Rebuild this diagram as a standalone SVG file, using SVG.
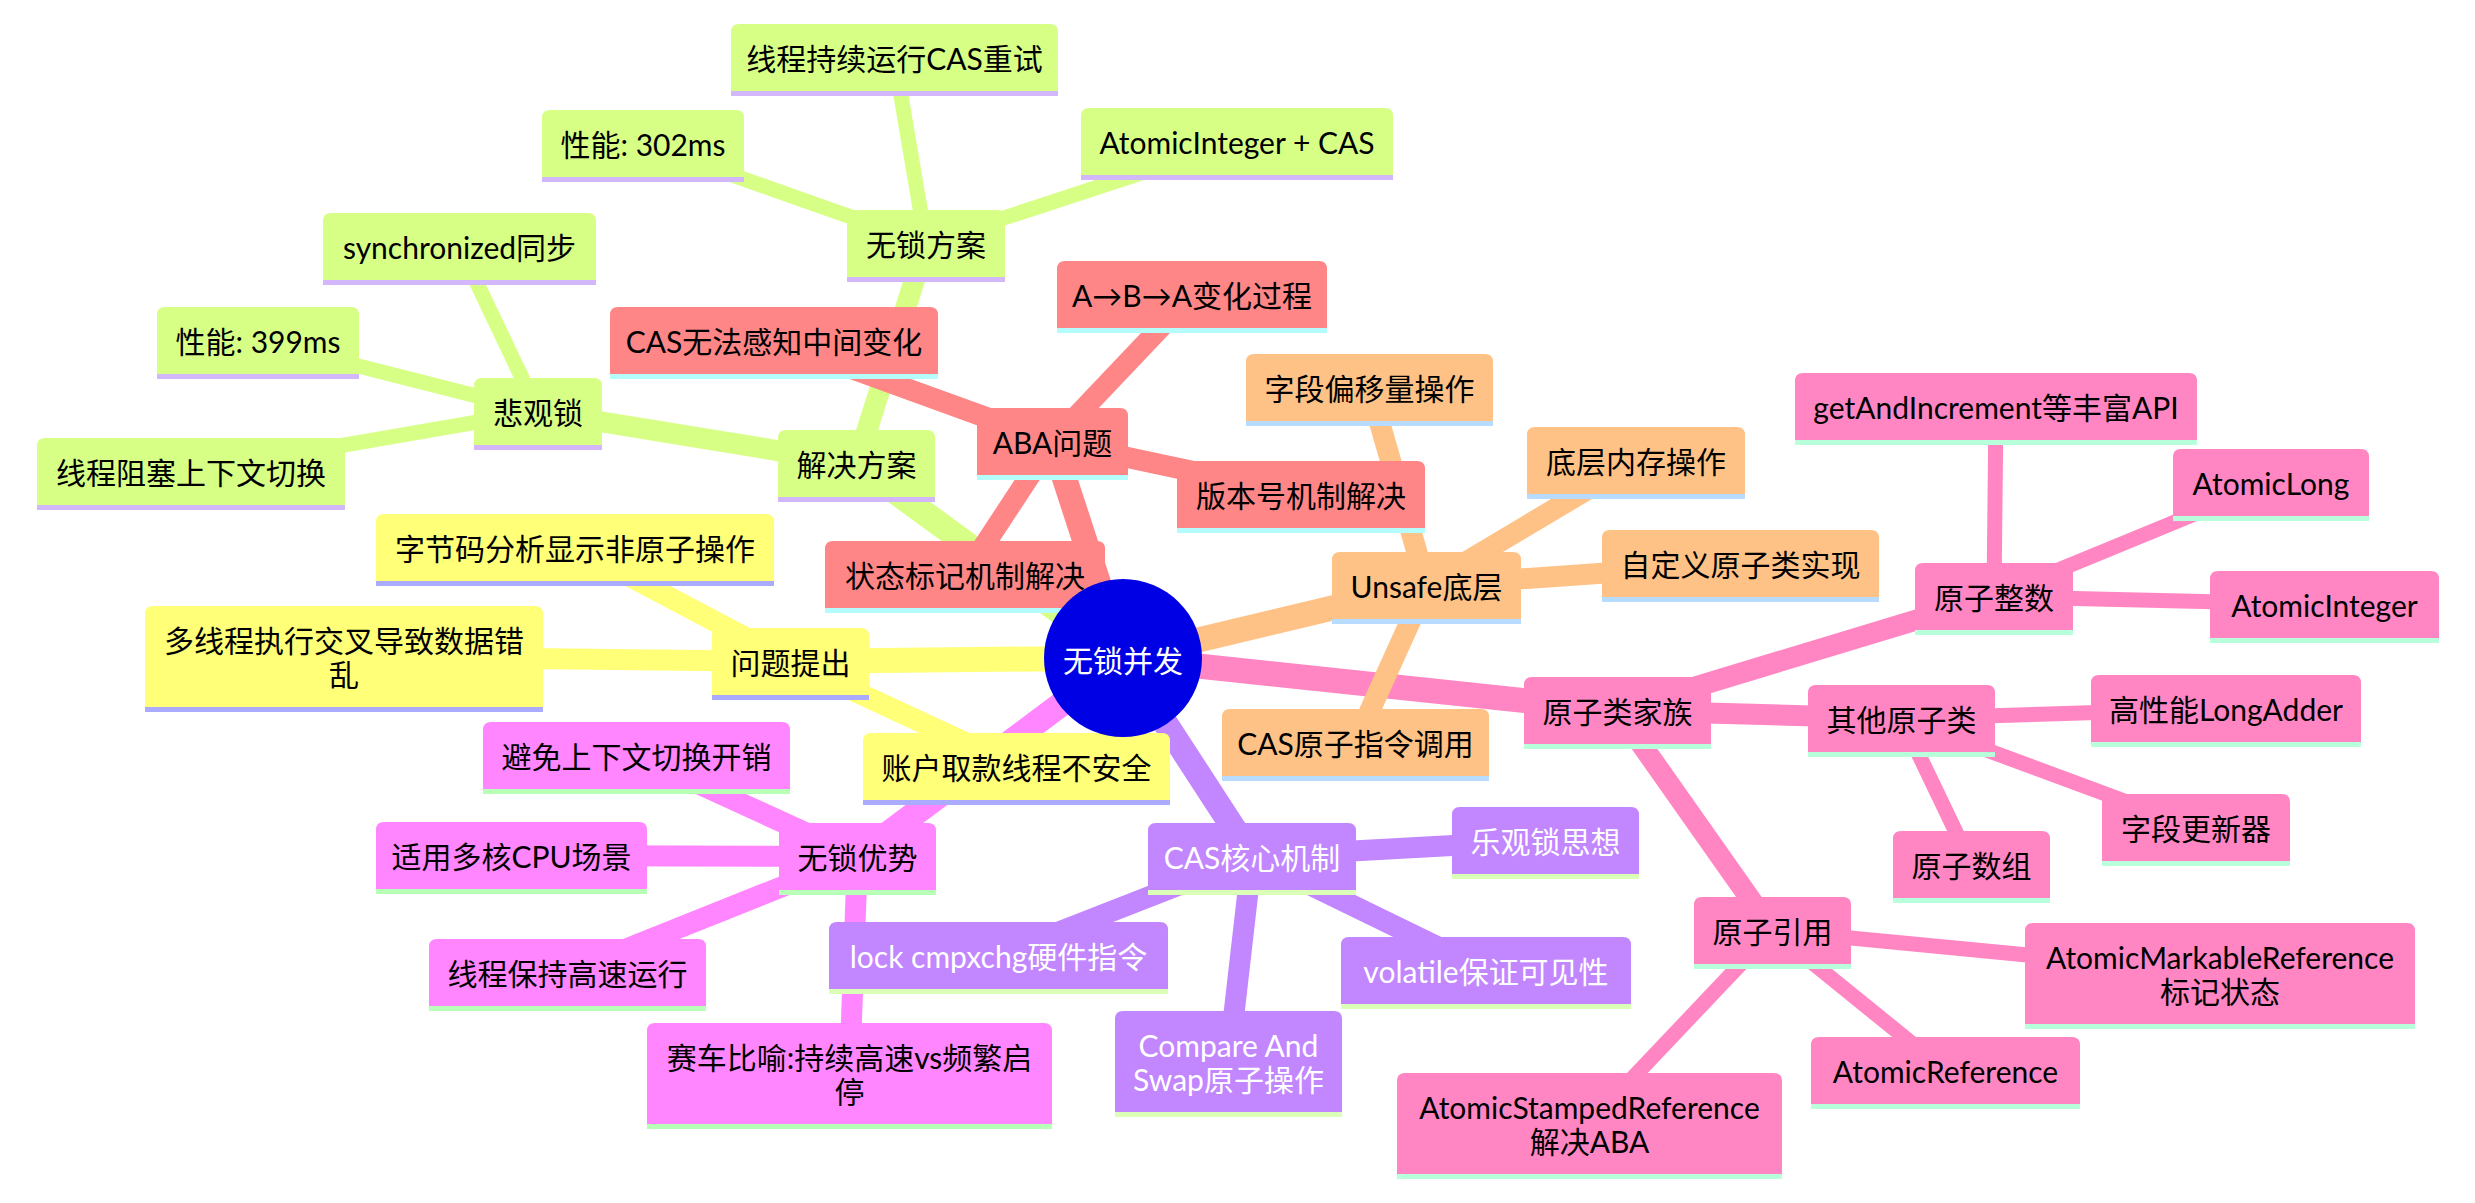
<svg xmlns="http://www.w3.org/2000/svg" width="2475" height="1203" viewBox="0 0 2475 1203">
<style>
text{font-family:"trebuchet ms",Lato,"Noto Sans CJK SC",sans-serif;font-size:30px;text-anchor:middle;dominant-baseline:central;fill:#000}
.edges line{fill:none;stroke-linecap:butt}
.d0{stroke-width:25}.d1{stroke-width:21}.d2{stroke-width:15}
.e-yel{stroke:#ffff78}.e-grn{stroke:#d7ff86}.e-red{stroke:#ff8686}.e-org{stroke:#ffc286}.e-pnk{stroke:#ff86c2}.e-pur{stroke:#c286ff}.e-mag{stroke:#ff86ff}
.yel path{fill:#ffff78}.yel .ln{fill:#aaaaff}
.grn path{fill:#d7ff86}.grn .ln{fill:#d2b8fa}
.red path{fill:#ff8686}.red .ln{fill:#b5fdfd}
.org path{fill:#ffc286}.org .ln{fill:#b8dcff}
.pnk path{fill:#ff86c2}.pnk .ln{fill:#b8ffdc}
.pur path{fill:#c286ff}.pur .ln{fill:#dcffb8}.pur text{fill:#fff}
.mag path{fill:#ff86ff}.mag .ln{fill:#b8ffb8}
</style>
<g id="connectors" class="edges">
<line class="d0 e-yel" x1="1123" y1="658" x2="790.5" y2="661.5"/>
<line class="d0 e-grn" x1="1123" y1="658" x2="856.5" y2="463.5"/>
<line class="d0 e-red" x1="1123" y1="658" x2="1052.5" y2="441.5"/>
<line class="d0 e-org" x1="1123" y1="658" x2="1426.5" y2="585.5"/>
<line class="d0 e-pnk" x1="1123" y1="658" x2="1617.5" y2="710.5"/>
<line class="d0 e-pur" x1="1123" y1="658" x2="1252" y2="856.5"/>
<line class="d0 e-mag" x1="1123" y1="658" x2="857.5" y2="856.5"/>
<line class="d1 e-yel" x1="790.5" y1="661.5" x2="575" y2="547.5"/>
<line class="d1 e-yel" x1="790.5" y1="661.5" x2="344" y2="656.5"/>
<line class="d1 e-yel" x1="790.5" y1="661.5" x2="1016.5" y2="766.5"/>
<line class="d1 e-grn" x1="856.5" y1="463.5" x2="538" y2="411.5"/>
<line class="d1 e-grn" x1="856.5" y1="463.5" x2="926" y2="243.5"/>
<line class="d2 e-grn" x1="538" y1="411.5" x2="459.5" y2="246.5"/>
<line class="d2 e-grn" x1="538" y1="411.5" x2="258" y2="340.5"/>
<line class="d2 e-grn" x1="538" y1="411.5" x2="191" y2="471.5"/>
<line class="d2 e-grn" x1="926" y1="243.5" x2="894.5" y2="57.5"/>
<line class="d2 e-grn" x1="926" y1="243.5" x2="643" y2="143.5"/>
<line class="d2 e-grn" x1="926" y1="243.5" x2="1237" y2="141.5"/>
<line class="d1 e-red" x1="1052.5" y1="441.5" x2="774" y2="340.5"/>
<line class="d1 e-red" x1="1052.5" y1="441.5" x2="1192" y2="294.5"/>
<line class="d1 e-red" x1="1052.5" y1="441.5" x2="1301" y2="494.5"/>
<line class="d1 e-red" x1="1052.5" y1="441.5" x2="965" y2="574.5"/>
<line class="d1 e-org" x1="1426.5" y1="585.5" x2="1369.5" y2="387.5"/>
<line class="d1 e-org" x1="1426.5" y1="585.5" x2="1636" y2="460.5"/>
<line class="d1 e-org" x1="1426.5" y1="585.5" x2="1740.5" y2="563.5"/>
<line class="d1 e-org" x1="1426.5" y1="585.5" x2="1355.5" y2="742.5"/>
<line class="d1 e-pnk" x1="1617.5" y1="710.5" x2="1994" y2="596.5"/>
<line class="d1 e-pnk" x1="1617.5" y1="710.5" x2="1901.5" y2="718.5"/>
<line class="d1 e-pnk" x1="1617.5" y1="710.5" x2="1772.5" y2="930.5"/>
<line class="d2 e-pnk" x1="1994" y1="596.5" x2="1996" y2="406.5"/>
<line class="d2 e-pnk" x1="1994" y1="596.5" x2="2271" y2="482.5"/>
<line class="d2 e-pnk" x1="1994" y1="596.5" x2="2324.5" y2="604.5"/>
<line class="d2 e-pnk" x1="1901.5" y1="718.5" x2="2226" y2="708.5"/>
<line class="d2 e-pnk" x1="1901.5" y1="718.5" x2="2196" y2="827.5"/>
<line class="d2 e-pnk" x1="1901.5" y1="718.5" x2="1971.5" y2="864.5"/>
<line class="d2 e-pnk" x1="1772.5" y1="930.5" x2="2220" y2="973.5"/>
<line class="d2 e-pnk" x1="1772.5" y1="930.5" x2="1945.5" y2="1070.5"/>
<line class="d2 e-pnk" x1="1772.5" y1="930.5" x2="1589.5" y2="1123.5"/>
<line class="d1 e-pur" x1="1252" y1="856.5" x2="1545.5" y2="840.5"/>
<line class="d1 e-pur" x1="1252" y1="856.5" x2="998.5" y2="955.5"/>
<line class="d1 e-pur" x1="1252" y1="856.5" x2="1486" y2="970.5"/>
<line class="d1 e-pur" x1="1252" y1="856.5" x2="1228.5" y2="1061.5"/>
<line class="d1 e-mag" x1="857.5" y1="856.5" x2="636.5" y2="755.5"/>
<line class="d1 e-mag" x1="857.5" y1="856.5" x2="511.5" y2="855.5"/>
<line class="d1 e-mag" x1="857.5" y1="856.5" x2="567.5" y2="972.5"/>
<line class="d1 e-mag" x1="857.5" y1="856.5" x2="849.5" y2="1073.5"/>
</g>
<g id="nodes">
<g id="n-jjfa" class="grn" transform="translate(778,430)"><path d="M0,67V8Q0,0 8,0H149Q157,0 157,8V67Z"/><rect class="ln" y="67" width="157" height="5"/><text x="78.5" y="33.5">解决方案</text></g>
<g id="n-bgs" class="grn" transform="translate(474,378)"><path d="M0,67V8Q0,0 8,0H120Q128,0 128,8V67Z"/><rect class="ln" y="67" width="128" height="5"/><text x="64" y="33.5">悲观锁</text></g>
<g id="n-wsfa" class="grn" transform="translate(847,210)"><path d="M0,67V8Q0,0 8,0H150Q158,0 158,8V67Z"/><rect class="ln" y="67" width="158" height="5"/><text x="79" y="33.5">无锁方案</text></g>
<g id="n-sync" class="grn" transform="translate(323,213)"><path d="M0,67V8Q0,0 8,0H265Q273,0 273,8V67Z"/><rect class="ln" y="67" width="273" height="5"/><text x="136.5" y="33.5">synchronized同步</text></g>
<g id="n-p399" class="grn" transform="translate(157,307)"><path d="M0,67V8Q0,0 8,0H194Q202,0 202,8V67Z"/><rect class="ln" y="67" width="202" height="5"/><text x="101" y="33.5">性能: 399ms</text></g>
<g id="n-zsqh" class="grn" transform="translate(37,438)"><path d="M0,67V8Q0,0 8,0H300Q308,0 308,8V67Z"/><rect class="ln" y="67" width="308" height="5"/><text x="154" y="33.5">线程阻塞上下文切换</text></g>
<g id="n-cxcs" class="grn" transform="translate(731,24)"><path d="M0,67V8Q0,0 8,0H319Q327,0 327,8V67Z"/><rect class="ln" y="67" width="327" height="5"/><text x="163.5" y="33.5">线程持续运行CAS重试</text></g>
<g id="n-p302" class="grn" transform="translate(542,110)"><path d="M0,67V8Q0,0 8,0H194Q202,0 202,8V67Z"/><rect class="ln" y="67" width="202" height="5"/><text x="101" y="33.5">性能: 302ms</text></g>
<g id="n-aicas" class="grn" transform="translate(1081,108)"><path d="M0,67V8Q0,0 8,0H304Q312,0 312,8V67Z"/><rect class="ln" y="67" width="312" height="5"/><text x="156" y="33.5">AtomicInteger + CAS</text></g>
<g id="n-aba" class="red" transform="translate(977,408)"><path d="M0,67V8Q0,0 8,0H143Q151,0 151,8V67Z"/><rect class="ln" y="67" width="151" height="5"/><text x="75.5" y="33.5">ABA问题</text></g>
<g id="n-wfgz" class="red" transform="translate(610,307)"><path d="M0,67V8Q0,0 8,0H320Q328,0 328,8V67Z"/><rect class="ln" y="67" width="328" height="5"/><text x="164" y="33.5">CAS无法感知中间变化</text></g>
<g id="n-aba2" class="red" transform="translate(1057,261)"><path d="M0,67V8Q0,0 8,0H262Q270,0 270,8V67Z"/><rect class="ln" y="67" width="270" height="5"/><text x="135" y="33.5">A→B→A变化过程</text></g>
<g id="n-bbh" class="red" transform="translate(1177,461)"><path d="M0,67V8Q0,0 8,0H240Q248,0 248,8V67Z"/><rect class="ln" y="67" width="248" height="5"/><text x="124" y="33.5">版本号机制解决</text></g>
<g id="n-ztbj" class="red" transform="translate(825,541)"><path d="M0,67V8Q0,0 8,0H272Q280,0 280,8V67Z"/><rect class="ln" y="67" width="280" height="5"/><text x="140" y="33.5">状态标记机制解决</text></g>
<g id="n-unsafe" class="org" transform="translate(1332,552)"><path d="M0,67V8Q0,0 8,0H181Q189,0 189,8V67Z"/><rect class="ln" y="67" width="189" height="5"/><text x="94.5" y="33.5">Unsafe底层</text></g>
<g id="n-zdpy" class="org" transform="translate(1246,354)"><path d="M0,67V8Q0,0 8,0H239Q247,0 247,8V67Z"/><rect class="ln" y="67" width="247" height="5"/><text x="123.5" y="33.5">字段偏移量操作</text></g>
<g id="n-dcnc" class="org" transform="translate(1527,427)"><path d="M0,67V8Q0,0 8,0H210Q218,0 218,8V67Z"/><rect class="ln" y="67" width="218" height="5"/><text x="109" y="33.5">底层内存操作</text></g>
<g id="n-zdy" class="org" transform="translate(1602,530)"><path d="M0,67V8Q0,0 8,0H269Q277,0 277,8V67Z"/><rect class="ln" y="67" width="277" height="5"/><text x="138.5" y="33.5">自定义原子类实现</text></g>
<g id="n-caszl" class="org" transform="translate(1222,709)"><path d="M0,67V8Q0,0 8,0H259Q267,0 267,8V67Z"/><rect class="ln" y="67" width="267" height="5"/><text x="133.5" y="33.5">CAS原子指令调用</text></g>
<g id="n-yzljz" class="pnk" transform="translate(1524,677)"><path d="M0,67V8Q0,0 8,0H179Q187,0 187,8V67Z"/><rect class="ln" y="67" width="187" height="5"/><text x="93.5" y="33.5">原子类家族</text></g>
<g id="n-yzzs" class="pnk" transform="translate(1915,563)"><path d="M0,67V8Q0,0 8,0H150Q158,0 158,8V67Z"/><rect class="ln" y="67" width="158" height="5"/><text x="79" y="33.5">原子整数</text></g>
<g id="n-gai" class="pnk" transform="translate(1795,373)"><path d="M0,67V8Q0,0 8,0H394Q402,0 402,8V67Z"/><rect class="ln" y="67" width="402" height="5"/><text x="201" y="33.5">getAndIncrement等丰富API</text></g>
<g id="n-along" class="pnk" transform="translate(2173,449)"><path d="M0,67V8Q0,0 8,0H188Q196,0 196,8V67Z"/><rect class="ln" y="67" width="196" height="5"/><text x="98" y="33.5">AtomicLong</text></g>
<g id="n-aint" class="pnk" transform="translate(2210,571)"><path d="M0,67V8Q0,0 8,0H221Q229,0 229,8V67Z"/><rect class="ln" y="67" width="229" height="5"/><text x="114.5" y="33.5">AtomicInteger</text></g>
<g id="n-qtyz" class="pnk" transform="translate(1808,685)"><path d="M0,67V8Q0,0 8,0H179Q187,0 187,8V67Z"/><rect class="ln" y="67" width="187" height="5"/><text x="93.5" y="33.5">其他原子类</text></g>
<g id="n-adder" class="pnk" transform="translate(2091,675)"><path d="M0,67V8Q0,0 8,0H262Q270,0 270,8V67Z"/><rect class="ln" y="67" width="270" height="5"/><text x="135" y="33.5">高性能LongAdder</text></g>
<g id="n-zdgx" class="pnk" transform="translate(2102,794)"><path d="M0,67V8Q0,0 8,0H180Q188,0 188,8V67Z"/><rect class="ln" y="67" width="188" height="5"/><text x="94" y="33.5">字段更新器</text></g>
<g id="n-yzsz" class="pnk" transform="translate(1893,831)"><path d="M0,67V8Q0,0 8,0H149Q157,0 157,8V67Z"/><rect class="ln" y="67" width="157" height="5"/><text x="78.5" y="33.5">原子数组</text></g>
<g id="n-yzyy" class="pnk" transform="translate(1694,897)"><path d="M0,67V8Q0,0 8,0H149Q157,0 157,8V67Z"/><rect class="ln" y="67" width="157" height="5"/><text x="78.5" y="33.5">原子引用</text></g>
<g id="n-amr" class="pnk" transform="translate(2025,923)"><path d="M0,101V8Q0,0 8,0H382Q390,0 390,8V101Z"/><rect class="ln" y="101" width="390" height="5"/><text x="195" y="33.5">AtomicMarkableReference</text><text x="195" y="67.5">标记状态</text></g>
<g id="n-aref" class="pnk" transform="translate(1811,1037)"><path d="M0,67V8Q0,0 8,0H261Q269,0 269,8V67Z"/><rect class="ln" y="67" width="269" height="5"/><text x="134.5" y="33.5">AtomicReference</text></g>
<g id="n-asr" class="pnk" transform="translate(1397,1073)"><path d="M0,101V8Q0,0 8,0H377Q385,0 385,8V101Z"/><rect class="ln" y="101" width="385" height="5"/><text x="192.5" y="33.5">AtomicStampedReference</text><text x="192.5" y="67.5">解决ABA</text></g>
<g id="n-cashx" class="pur" transform="translate(1148,823)"><path d="M0,67V8Q0,0 8,0H200Q208,0 208,8V67Z"/><rect class="ln" y="67" width="208" height="5"/><text x="104" y="33.5">CAS核心机制</text></g>
<g id="n-lgs" class="pur" transform="translate(1452,807)"><path d="M0,67V8Q0,0 8,0H179Q187,0 187,8V67Z"/><rect class="ln" y="67" width="187" height="5"/><text x="93.5" y="33.5">乐观锁思想</text></g>
<g id="n-lock" class="pur" transform="translate(829,922)"><path d="M0,67V8Q0,0 8,0H331Q339,0 339,8V67Z"/><rect class="ln" y="67" width="339" height="5"/><text x="169.5" y="33.5">lock cmpxchg硬件指令</text></g>
<g id="n-vol" class="pur" transform="translate(1341,937)"><path d="M0,67V8Q0,0 8,0H282Q290,0 290,8V67Z"/><rect class="ln" y="67" width="290" height="5"/><text x="145" y="33.5">volatile保证可见性</text></g>
<g id="n-cmp" class="pur" transform="translate(1115,1011)"><path d="M0,101V8Q0,0 8,0H219Q227,0 227,8V101Z"/><rect class="ln" y="101" width="227" height="5"/><text x="113.5" y="33.5">Compare And</text><text x="113.5" y="67.5">Swap原子操作</text></g>
<g id="n-wsys" class="mag" transform="translate(779,823)"><path d="M0,67V8Q0,0 8,0H149Q157,0 157,8V67Z"/><rect class="ln" y="67" width="157" height="5"/><text x="78.5" y="33.5">无锁优势</text></g>
<g id="n-bm" class="mag" transform="translate(483,722)"><path d="M0,67V8Q0,0 8,0H299Q307,0 307,8V67Z"/><rect class="ln" y="67" width="307" height="5"/><text x="153.5" y="33.5">避免上下文切换开销</text></g>
<g id="n-sy" class="mag" transform="translate(376,822)"><path d="M0,67V8Q0,0 8,0H263Q271,0 271,8V67Z"/><rect class="ln" y="67" width="271" height="5"/><text x="135.5" y="33.5">适用多核CPU场景</text></g>
<g id="n-bc" class="mag" transform="translate(429,939)"><path d="M0,67V8Q0,0 8,0H269Q277,0 277,8V67Z"/><rect class="ln" y="67" width="277" height="5"/><text x="138.5" y="33.5">线程保持高速运行</text></g>
<g id="n-sc" class="mag" transform="translate(647,1023)"><path d="M0,101V8Q0,0 8,0H397Q405,0 405,8V101Z"/><rect class="ln" y="101" width="405" height="5"/><text x="202.5" y="33.5">赛车比喻:持续高速vs频繁启</text><text x="202.5" y="67.5">停</text></g>
<g id="n-wttc" class="yel" transform="translate(712,628)"><path d="M0,67V8Q0,0 8,0H149Q157,0 157,8V67Z"/><rect class="ln" y="67" width="157" height="5"/><text x="78.5" y="33.5">问题提出</text></g>
<g id="n-zjm" class="yel" transform="translate(376,514)"><path d="M0,67V8Q0,0 8,0H390Q398,0 398,8V67Z"/><rect class="ln" y="67" width="398" height="5"/><text x="199" y="33.5">字节码分析显示非原子操作</text></g>
<g id="n-dxc" class="yel" transform="translate(145,606)"><path d="M0,101V8Q0,0 8,0H390Q398,0 398,8V101Z"/><rect class="ln" y="101" width="398" height="5"/><text x="199" y="33.5">多线程执行交叉导致数据错</text><text x="199" y="67.5">乱</text></g>
<g id="n-zh" class="yel" transform="translate(863,733)"><path d="M0,67V8Q0,0 8,0H299Q307,0 307,8V67Z"/><rect class="ln" y="67" width="307" height="5"/><text x="153.5" y="33.5">账户取款线程不安全</text></g>
<g id="n-root"><circle cx="1123" cy="658" r="79" fill="#0000e4"/><text x="1123" y="660" style="fill:#fff">无锁并发</text></g>
</g>
</svg>
